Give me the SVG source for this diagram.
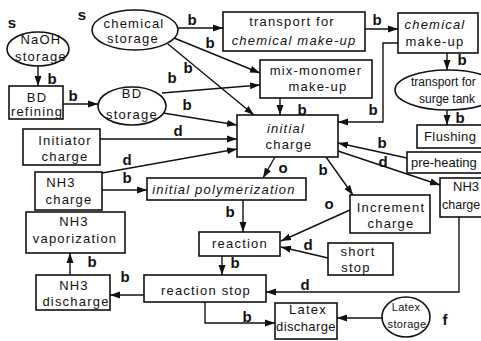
<svg xmlns="http://www.w3.org/2000/svg" width="481" height="341" viewBox="0 0 481 341">
  <defs>
    <marker id="arr" markerUnits="userSpaceOnUse" markerWidth="11" markerHeight="8" refX="10" refY="4" orient="auto">
      <path d="M0,0.5 L10,4 L0,7.5 z" fill="#111"/>
    </marker>
    <style>
      .box { fill: #fff; stroke: #111; stroke-width: 1.6; }
      .ell { fill: #fff; stroke: #111; stroke-width: 1.6; }
      .t { font-family: "Liberation Sans", Arial, sans-serif; font-size: 13px; letter-spacing: 1.2px; fill: #111; text-anchor: middle; }
      .ts { text-anchor: start; }
      .tight { letter-spacing: 0; }
      .it { font-style: italic; }
      .sm { font-size: 11px; letter-spacing: 0.3px; }
      .e { fill: none; stroke: #111; stroke-width: 1.4; marker-end: url(#arr); }
      .lbl { font-family: "Liberation Sans", Arial, sans-serif; font-size: 15px; font-weight: bold; fill: #111; text-anchor: middle; }
    </style>
  </defs>
  <rect x="0" y="0" width="481" height="341" fill="#fff"/>

  <!-- connectors -->
  <g id="connectors">
    <path class="e" d="M38,66 L38,86"/>
    <path class="e" d="M63,104 L98,104"/>
    <path class="e" d="M178,28 L223,28"/>
    <path class="e" d="M174,38 L260,73"/>
    <path class="e" d="M168,44 L254,115"/>
    <path class="e" d="M162,93 L260,85"/>
    <path class="e" d="M163,113 L237,125"/>
    <path class="e" d="M365,29 L398,29"/>
    <path class="e" d="M398,43 L383,43 L383,122 L338,122"/>
    <path class="e" d="M280,98 L280,115"/>
    <path class="e" d="M447,53 L447,70"/>
    <path class="e" d="M447,110 L447,125"/>
    <path class="e" d="M407,158 L338,143"/>
    <path class="e" d="M338,151 L440,185"/>
    <path class="e" d="M100,139 L237,139"/>
    <path class="e" d="M102,173 L237,149"/>
    <path class="e" d="M102,190 L147,190"/>
    <path class="e" d="M275,157 L263,178"/>
    <path class="e" d="M326,157 L353,195"/>
    <path class="e" d="M243,200 L243,232"/>
    <path class="e" d="M350,210 L281,241"/>
    <path class="e" d="M328,258 L281,247"/>
    <path class="e" d="M222,256 L222,275"/>
    <path class="e" d="M459,217 L459,292 L266,292"/>
    <path class="e" d="M144,295 L110,295"/>
    <path class="e" d="M70,275 L70,253"/>
    <path class="e" d="M205,302 L205,323 L275,323"/>
    <path class="e" d="M382,318 L337,318"/>
  </g>

  <!-- connector labels -->
  <g id="edge-labels">
    <text class="lbl" x="12" y="28">s</text>
    <text class="lbl" x="82" y="20">s</text>
    <text class="lbl" x="52" y="84">b</text>
    <text class="lbl" x="73" y="101">b</text>
    <text class="lbl" x="192" y="25">b</text>
    <text class="lbl" x="210" y="48">b</text>
    <text class="lbl" x="188" y="73">b</text>
    <text class="lbl" x="172" y="83">b</text>
    <text class="lbl" x="187" y="110">b</text>
    <text class="lbl" x="302" y="115">b</text>
    <text class="lbl" x="377" y="25">b</text>
    <text class="lbl" x="462" y="65">b</text>
    <text class="lbl" x="373" y="115">b</text>
    <text class="lbl" x="460" y="123">b</text>
    <text class="lbl" x="382" y="148">b</text>
    <text class="lbl" x="383" y="167">d</text>
    <text class="lbl" x="178" y="136">d</text>
    <text class="lbl" x="127" y="165">d</text>
    <text class="lbl" x="127" y="183">b</text>
    <text class="lbl" x="283" y="173">o</text>
    <text class="lbl" x="323" y="175">b</text>
    <text class="lbl" x="329" y="209">o</text>
    <text class="lbl" x="230" y="217">b</text>
    <text class="lbl" x="308" y="250">d</text>
    <text class="lbl" x="235" y="268">b</text>
    <text class="lbl" x="305" y="290">d</text>
    <text class="lbl" x="125" y="282">b</text>
    <text class="lbl" x="92" y="267">b</text>
    <text class="lbl" x="247" y="322">b</text>
    <text class="lbl" x="445" y="325">f</text>
  </g>

  <!-- nodes -->
  <g id="naoh-storage">
    <ellipse class="ell" cx="38" cy="49" rx="31" ry="17"/>
    <text class="t" x="41" y="44">NaOH</text>
    <text class="t" x="41" y="61">storage</text>
  </g>
  <g id="chemical-storage">
    <ellipse class="ell" cx="135" cy="30" rx="43" ry="20"/>
    <text class="t" x="134" y="28">chemical</text>
    <text class="t" x="133" y="43">storage</text>
  </g>
  <g id="bd-refining">
    <rect class="box" x="9" y="86" width="54" height="33"/>
    <text class="t" x="37" y="102">BD</text>
    <text class="t" x="37" y="116">refining</text>
  </g>
  <g id="bd-storage">
    <ellipse class="ell" cx="132" cy="106" rx="34" ry="19"/>
    <text class="t" x="132" y="98">BD</text>
    <text class="t" x="132" y="119">storage</text>
  </g>
  <g id="transport-chemical">
    <rect class="box" x="223" y="12" width="142" height="39"/>
    <text class="t" x="292" y="26">transport for</text>
    <text class="t it" x="294" y="45">chemical make-up</text>
  </g>
  <g id="chemical-make-up">
    <rect class="box" x="398" y="13" width="80" height="40"/>
    <text class="t it" x="435" y="29">chemical</text>
    <text class="t" x="435" y="46">make-up</text>
  </g>
  <g id="transport-surge-tank">
    <ellipse class="ell" cx="448" cy="90" rx="53" ry="20"/>
    <text class="t ts tight" x="411" y="86" style="font-size:12px">transport for</text>
    <text class="t ts tight" x="419" y="103" style="font-size:12px">surge tank</text>
  </g>
  <g id="mix-monomer">
    <rect class="box" x="260" y="60" width="112" height="38"/>
    <text class="t" x="316" y="75">mix-monomer</text>
    <text class="t" x="318" y="91">make-up</text>
  </g>
  <g id="flushing">
    <rect class="box" x="417" y="125" width="70" height="23"/>
    <text class="t ts" x="424" y="141" style="letter-spacing:0.4px">Flushing</text>
  </g>
  <g id="pre-heating">
    <rect class="box" x="407" y="152" width="80" height="21"/>
    <text class="t ts tight" x="411" y="167">pre-heating</text>
  </g>
  <g id="initiator-charge">
    <rect class="box" x="23" y="129" width="77" height="36"/>
    <text class="t" x="65" y="145">Initiator</text>
    <text class="t" x="65" y="161">charge</text>
  </g>
  <g id="initial-charge">
    <rect class="box" x="237" y="115" width="101" height="42"/>
    <text class="t it" x="286" y="133">initial</text>
    <text class="t" x="289" y="149">charge</text>
  </g>
  <g id="nh3-charge-left">
    <rect class="box" x="35" y="172" width="67" height="38"/>
    <text class="t" x="61" y="187">NH3</text>
    <text class="t" x="69" y="204">charge</text>
  </g>
  <g id="nh3-charge-right">
    <rect class="box" x="440" y="178" width="50" height="39"/>
    <text class="t ts tight" x="453" y="191">NH3</text>
    <text class="t ts tight" x="442" y="209" style="font-size:12.5px">charge</text>
  </g>
  <g id="initial-polymerization">
    <rect class="box" x="147" y="178" width="159" height="22"/>
    <text class="t it" x="224" y="194">initial polymerization</text>
  </g>
  <g id="increment-charge">
    <rect class="box" x="350" y="195" width="80" height="38"/>
    <text class="t" x="391" y="212">Increment</text>
    <text class="t" x="391" y="228">charge</text>
  </g>
  <g id="nh3-vaporization">
    <rect class="box" x="26" y="212" width="99" height="41"/>
    <text class="t" x="74" y="226">NH3</text>
    <text class="t" x="75" y="243">vaporization</text>
  </g>
  <g id="reaction">
    <rect class="box" x="199" y="232" width="81" height="24"/>
    <text class="t" x="240" y="248">reaction</text>
  </g>
  <g id="short-stop">
    <rect class="box" x="328" y="243" width="65" height="32"/>
    <text class="t" x="358" y="256">short</text>
    <text class="t" x="356" y="272">stop</text>
  </g>
  <g id="reaction-stop">
    <rect class="box" x="144" y="275" width="122" height="27"/>
    <text class="t" x="206" y="295">reaction stop</text>
  </g>
  <g id="nh3-discharge">
    <rect class="box" x="36" y="275" width="74" height="35"/>
    <text class="t" x="74" y="290">NH3</text>
    <text class="t" x="76" y="306">discharge</text>
  </g>
  <g id="latex-discharge">
    <rect class="box" x="275" y="303" width="62" height="36"/>
    <text class="t" x="308" y="314">Latex</text>
    <text class="t" x="306" y="331" style="letter-spacing:0.4px">discharge</text>
  </g>
  <g id="latex-storage">
    <ellipse class="ell" cx="406" cy="317" rx="24" ry="20"/>
    <text class="t sm" x="406" y="311">Latex</text>
    <text class="t sm" x="407" y="328">storage</text>
  </g>
</svg>
